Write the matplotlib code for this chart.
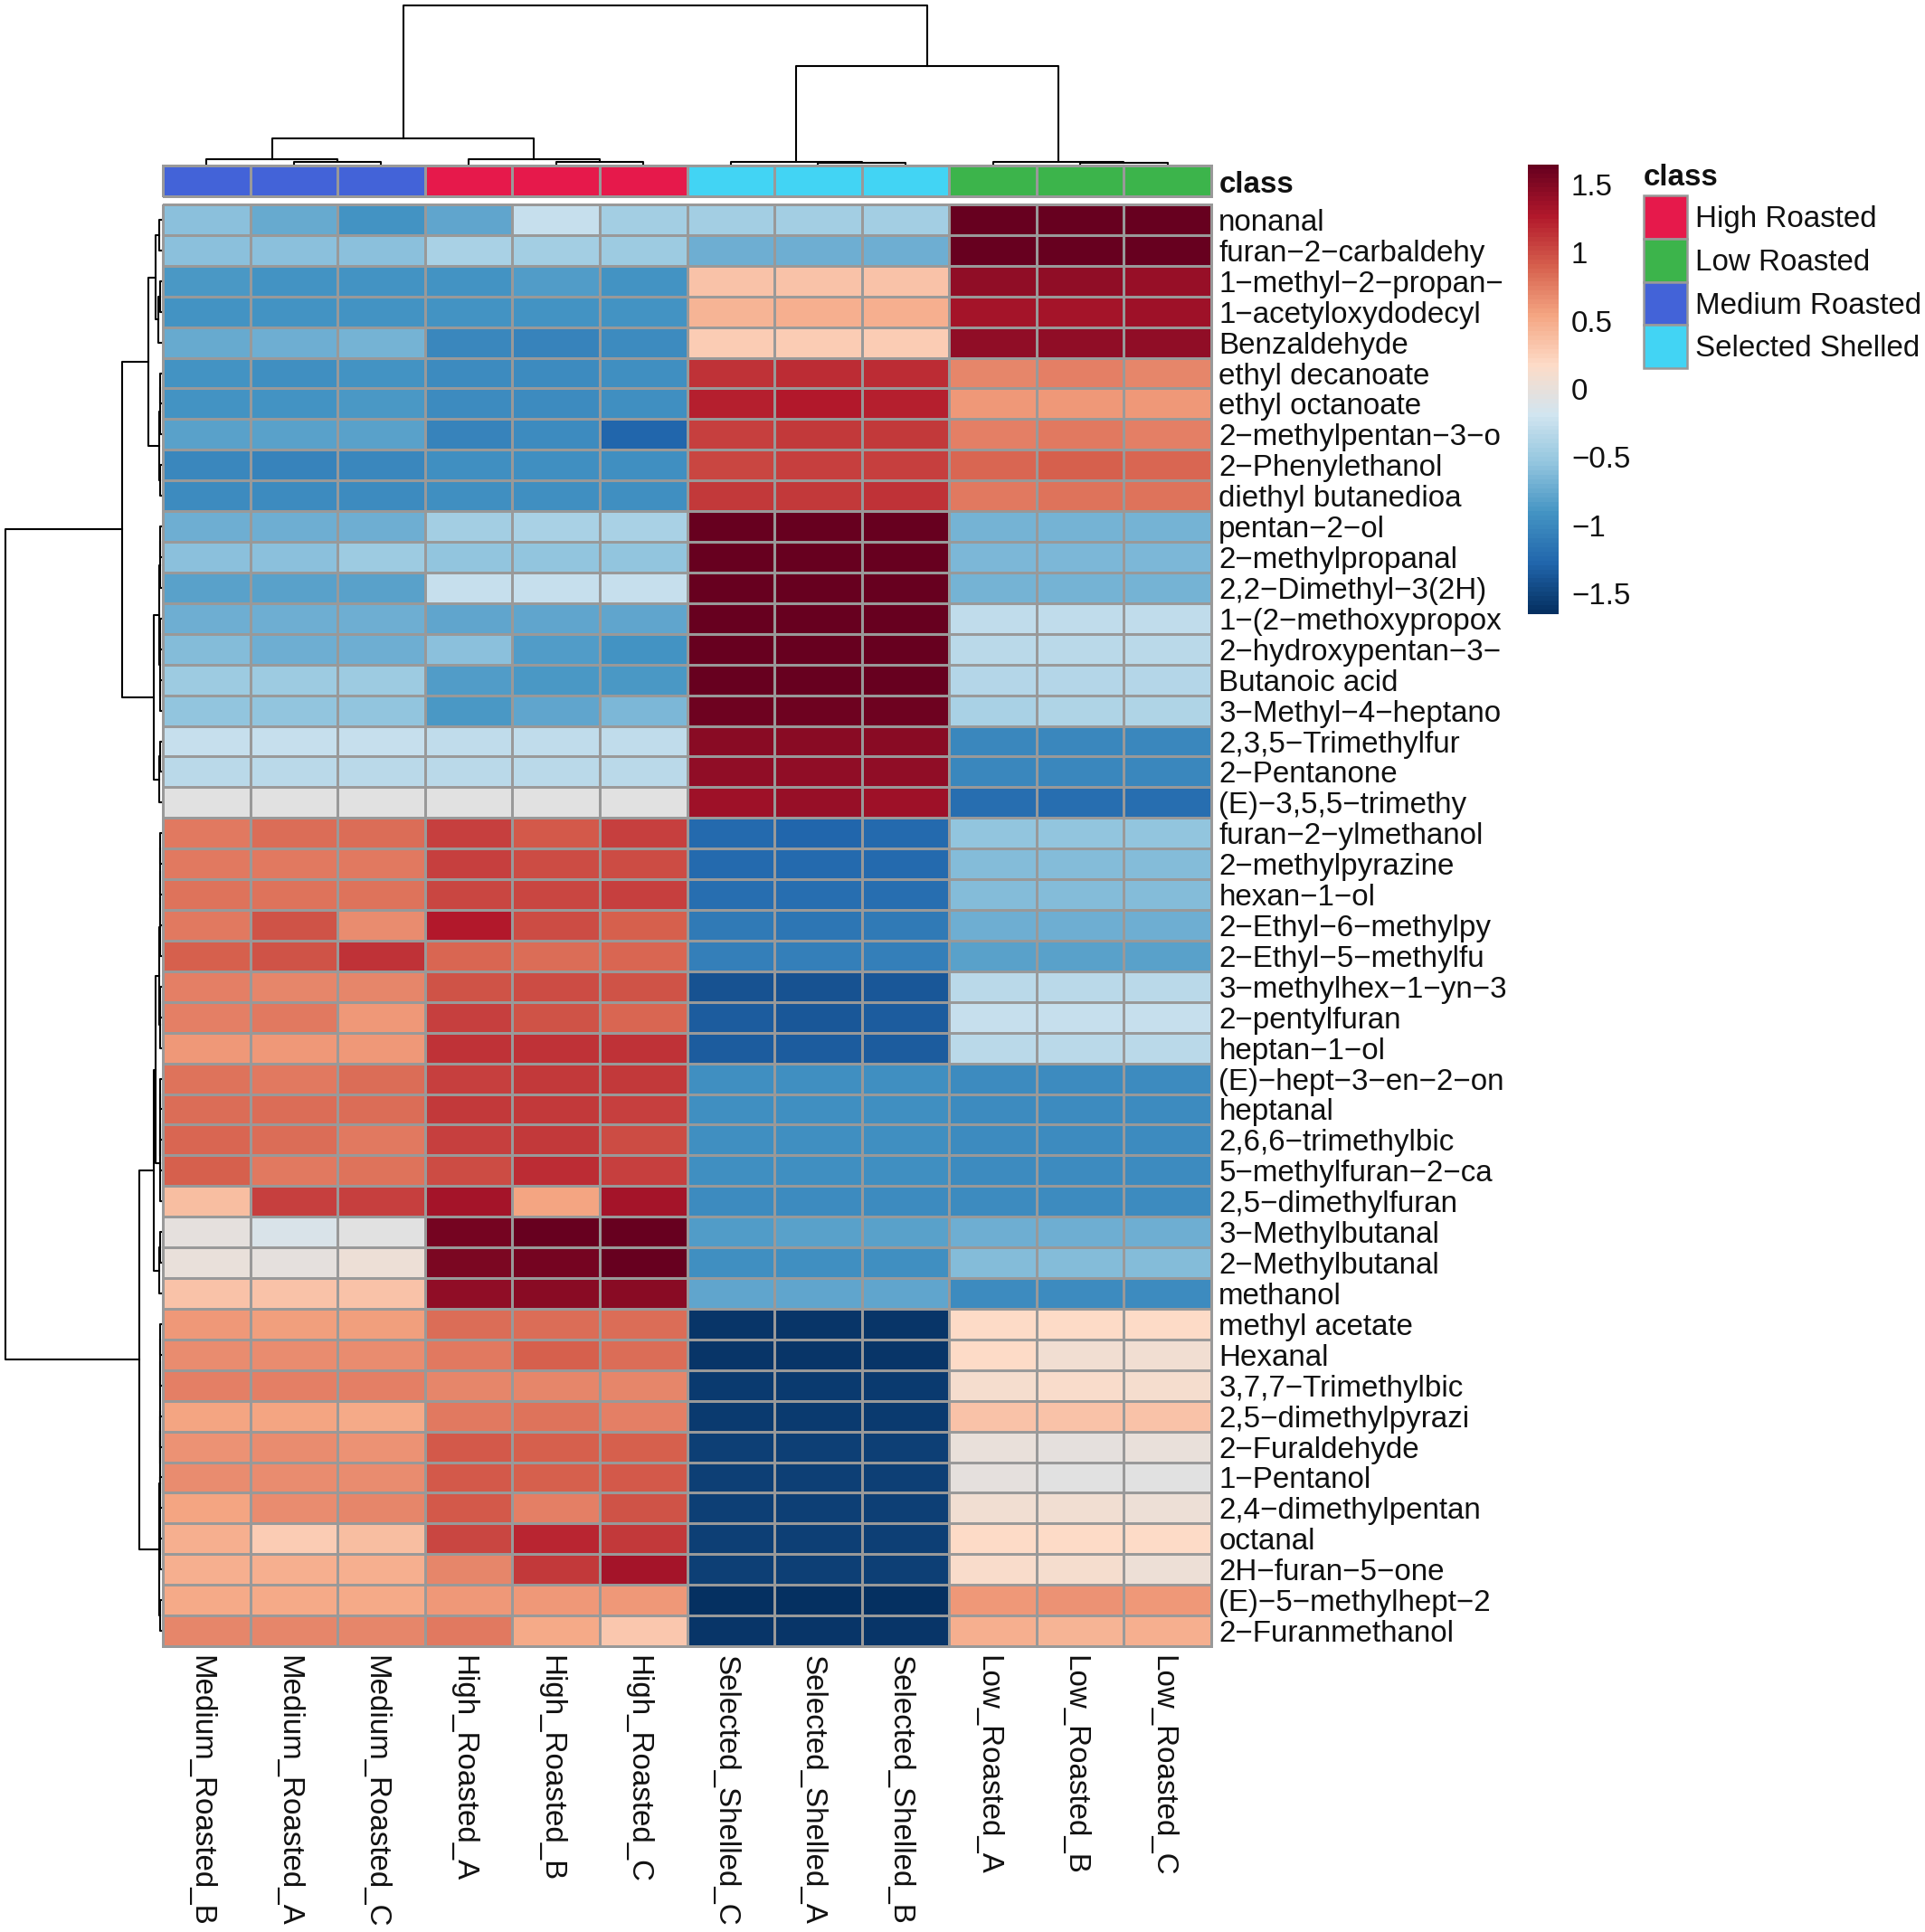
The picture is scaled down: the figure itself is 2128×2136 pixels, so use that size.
import numpy as np
import matplotlib
matplotlib.use('Agg')
import matplotlib.pyplot as plt
from matplotlib.colors import LinearSegmentedColormap, ListedColormap
from matplotlib.patches import Rectangle

plt.rcParams['font.family'] = ['Liberation Sans', 'DejaVu Sans']

compounds = ['nonanal', 'furan−2−carbaldehy', '1−methyl−2−propan−', '1−acetyloxydodecyl', 'Benzaldehyde',
             'ethyl decanoate', 'ethyl octanoate', '2−methylpentan−3−o', '2−Phenylethanol', 'diethyl butanedioa',
             'pentan−2−ol', '2−methylpropanal', '2,2−Dimethyl−3(2H)', '1−(2−methoxypropox', '2−hydroxypentan−3−',
             'Butanoic acid', '3−Methyl−4−heptano', '2,3,5−Trimethylfur', '2−Pentanone', '(E)−3,5,5−trimethy',
             'furan−2−ylmethanol', '2−methylpyrazine', 'hexan−1−ol', '2−Ethyl−6−methylpy', '2−Ethyl−5−methylfu',
             '3−methylhex−1−yn−3', '2−pentylfuran', 'heptan−1−ol', '(E)−hept−3−en−2−on', 'heptanal',
             '2,6,6−trimethylbic', '5−methylfuran−2−ca', '2,5−dimethylfuran', '3−Methylbutanal', '2−Methylbutanal',
             'methanol', 'methyl acetate', 'Hexanal', '3,7,7−Trimethylbic', '2,5−dimethylpyrazi',
             '2−Furaldehyde', '1−Pentanol', '2,4−dimethylpentan', 'octanal', '2H−furan−5−one',
             '(E)−5−methylhept−2', '2−Furanmethanol']

samples = ['Medium_Roasted_B', 'Medium_Roasted_A', 'Medium_Roasted_C',
           'High_Roasted_A', 'High_Roasted_B', 'High_Roasted_C',
           'Selected_Shelled_C', 'Selected_Shelled_A', 'Selected_Shelled_B',
           'Low_Roasted_A', 'Low_Roasted_B', 'Low_Roasted_C']

# one row per compound, columns in the order of the samples list
medium = [[-0.57, -0.75, -0.92], [-0.58, -0.58, -0.58], [-0.86, -0.92, -0.90], [-0.92, -0.91, -0.91], [-0.75, -0.72, -0.68],
          [-0.92, -0.93, -0.92], [-0.91, -0.90, -0.89], [-0.80, -0.80, -0.80], [-1.00, -1.04, -1.00], [-0.97, -0.97, -0.97],
          [-0.72, -0.70, -0.72], [-0.58, -0.58, -0.47], [-0.80, -0.80, -0.80], [-0.72, -0.72, -0.72], [-0.60, -0.70, -0.70],
          [-0.47, -0.47, -0.47], [-0.55, -0.53, -0.53], [-0.25, -0.25, -0.25], [-0.30, -0.30, -0.30], [-0.05, -0.05, -0.05],
          [0.76, 0.83, 0.83], [0.78, 0.78, 0.76], [0.80, 0.80, 0.82], [0.78, 0.97, 0.68], [0.92, 0.97, 1.13],
          [0.73, 0.70, 0.70], [0.73, 0.78, 0.61], [0.60, 0.60, 0.60], [0.81, 0.78, 0.83], [0.83, 0.85, 0.83],
          [0.88, 0.85, 0.78], [0.91, 0.76, 0.80], [0.38, 1.08, 1.08], [-0.03, -0.10, -0.04], [0.03, -0.03, 0.05],
          [0.35, 0.33, 0.35], [0.60, 0.58, 0.58], [0.66, 0.66, 0.66], [0.73, 0.73, 0.73], [0.56, 0.53, 0.50],
          [0.65, 0.68, 0.65], [0.68, 0.66, 0.67], [0.56, 0.66, 0.72], [0.48, 0.28, 0.38], [0.48, 0.48, 0.48],
          [0.50, 0.50, 0.50], [0.70, 0.70, 0.70]]
high = [[-0.77, -0.25, -0.43], [-0.42, -0.44, -0.47], [-0.91, -0.85, -0.90], [-0.91, -0.92, -0.91], [-1.00, -1.05, -0.99],
        [-0.97, -0.97, -0.95], [-0.97, -0.97, -0.95], [-1.03, -0.97, -1.28], [-0.94, -0.94, -0.94], [-0.95, -0.95, -0.95],
        [-0.43, -0.40, -0.40], [-0.53, -0.53, -0.53], [-0.25, -0.25, -0.25], [-0.78, -0.76, -0.76], [-0.57, -0.85, -0.90],
        [-0.85, -0.86, -0.86], [-0.88, -0.78, -0.65], [-0.27, -0.27, -0.27], [-0.30, -0.30, -0.30], [-0.05, -0.05, -0.05],
        [1.06, 0.93, 1.06], [1.06, 1.02, 1.02], [1.05, 1.03, 1.07], [1.26, 1.00, 0.91], [0.86, 0.85, 0.88],
        [0.96, 1.00, 0.96], [1.08, 0.98, 0.88], [1.14, 1.14, 1.14], [1.07, 1.10, 1.10], [1.12, 1.09, 1.08],
        [1.08, 1.12, 1.01], [0.99, 1.16, 1.07], [1.34, 0.55, 1.34], [1.56, 1.62, 1.62], [1.53, 1.58, 1.62],
        [1.42, 1.47, 1.47], [0.85, 0.84, 0.85], [0.76, 0.90, 0.83], [0.71, 0.70, 0.70], [0.76, 0.81, 0.73],
        [0.93, 0.91, 0.90], [0.93, 0.92, 0.93], [0.93, 0.73, 0.98], [1.05, 1.22, 1.12], [0.71, 1.10, 1.34],
        [0.60, 0.60, 0.60], [0.76, 0.52, 0.30]]
selected = [[-0.43, -0.43, -0.43], [-0.72, -0.70, -0.72], [0.35, 0.36, 0.36], [0.45, 0.48, 0.48], [0.28, 0.27, 0.28],
            [1.13, 1.18, 1.18], [1.23, 1.28, 1.25], [1.08, 1.10, 1.10], [1.03, 1.08, 1.08], [1.10, 1.10, 1.13],
            [1.65, 1.65, 1.65], [1.65, 1.65, 1.65], [1.65, 1.65, 1.65], [1.63, 1.63, 1.63], [1.62, 1.62, 1.62],
            [1.62, 1.62, 1.62], [1.60, 1.60, 1.60], [1.46, 1.48, 1.46], [1.42, 1.45, 1.45], [1.37, 1.40, 1.38],
            [-1.25, -1.27, -1.25], [-1.25, -1.25, -1.25], [-1.22, -1.22, -1.22], [-1.12, -1.15, -1.10], [-1.08, -1.08, -1.08],
            [-1.40, -1.40, -1.38], [-1.35, -1.38, -1.35], [-1.33, -1.35, -1.35], [-0.95, -0.93, -0.93], [-0.93, -0.93, -0.93],
            [-0.93, -0.93, -0.93], [-0.93, -0.93, -0.93], [-0.97, -0.97, -0.97], [-0.85, -0.80, -0.82], [-0.94, -0.94, -0.94],
            [-0.78, -0.78, -0.78], [-1.60, -1.60, -1.60], [-1.60, -1.60, -1.60], [-1.58, -1.58, -1.58], [-1.57, -1.57, -1.57],
            [-1.55, -1.55, -1.55], [-1.53, -1.53, -1.53], [-1.53, -1.53, -1.53], [-1.52, -1.52, -1.52], [-1.52, -1.52, -1.52],
            [-1.65, -1.65, -1.65], [-1.60, -1.60, -1.60]]
low = [[1.65, 1.65, 1.65], [1.65, 1.65, 1.65], [1.42, 1.42, 1.40], [1.33, 1.35, 1.36], [1.42, 1.44, 1.42],
       [0.72, 0.75, 0.72], [0.62, 0.62, 0.60], [0.75, 0.78, 0.75], [0.88, 0.90, 0.88], [0.78, 0.80, 0.80],
       [-0.68, -0.68, -0.68], [-0.66, -0.66, -0.66], [-0.68, -0.68, -0.68], [-0.27, -0.27, -0.27], [-0.33, -0.33, -0.33],
       [-0.36, -0.36, -0.36], [-0.40, -0.38, -0.38], [-1.00, -1.00, -1.02], [-1.00, -1.00, -1.00], [-1.22, -1.22, -1.22],
       [-0.53, -0.53, -0.53], [-0.60, -0.60, -0.60], [-0.62, -0.62, -0.62], [-0.72, -0.72, -0.72], [-0.80, -0.80, -0.80],
       [-0.30, -0.30, -0.30], [-0.25, -0.25, -0.25], [-0.33, -0.33, -0.33], [-0.96, -0.96, -0.97], [-0.96, -0.96, -0.97],
       [-0.97, -0.97, -0.97], [-0.97, -0.97, -0.97], [-0.97, -0.97, -0.97], [-0.72, -0.70, -0.72], [-0.62, -0.60, -0.62],
       [-0.97, -0.97, -0.97], [0.18, 0.17, 0.18], [0.18, 0.08, 0.09], [0.11, 0.14, 0.11], [0.33, 0.35, 0.33],
       [0.00, -0.02, 0.00], [-0.03, -0.05, -0.04], [0.07, 0.07, 0.05], [0.17, 0.19, 0.17], [0.15, 0.13, 0.05],
       [0.60, 0.63, 0.60], [0.47, 0.45, 0.47]]

class_names = ['High Roasted', 'Low Roasted', 'Medium Roasted', 'Selected Shelled']
class_colors = ['#e6194b', '#3cb44b', '#4363d8', '#42d4f4']
sample_class = [2, 2, 2, 0, 0, 0, 3, 3, 3, 1, 1, 1]

cbar_ticks = [-1.5, -1, -0.5, 0, 0.5, 1, 1.5]
cbar_labels = ['−1.5', '−1', '−0.5', '0', '0.5', '1', '1.5']

# merge trees: (height, left, right), leaves are indices in display order
col_tree = (1.0,
            (0.16,
             (0.028, 0, (0.012, 1, 2)),
             (0.028, 3, (0.012, 4, 5))),
            (0.62,
             (0.012, 6, (0.006, 7, 8)),
             (0.012, 9, (0.006, 10, 11))))

row_tree = (1.0,
            (0.25,
             (0.08,
              (0.035, (0.012, 0, 1), (0.018, (0.008, 2, 3), 4)),
              (0.012, (0.008, (0.005, 5, 6), 7), (0.005, 8, 9))),
             (0.047,
              (0.012, (0.006, (0.003, 10, 11), 12),
               (0.006, (0.003, 13, 14), (0.003, 15, 16))),
              (0.012, (0.005, 17, 18), 19))),
            (0.14,
             (0.047,
              (0.035,
               (0.012,
                (0.008, (0.006, (0.005, (0.003, 20, 21), 22), 23), 24),
                (0.006, (0.003, 25, 26), 27)),
               (0.008, (0.006, (0.003, 28, 29), (0.003, 30, 31)), 32)),
              (0.012, (0.006, 33, 34), 35)),
             (0.012,
              (0.008,
               (0.006, (0.004, (0.003, 36, 37), 38),
                (0.004, (0.003, 39, 40), (0.003, 41, 42))),
               (0.004, 43, 44)),
              (0.004, 45, 46))))

W, H = 2128, 2136
HEAT_L, HEAT_R, HEAT_T, HEAT_B = 180, 1339, 226, 1820
GRID = '#999999'
FONT = 23.9


def px_axes(fig, left, top, right, bottom):
    ax = fig.add_axes([left / W, 1 - bottom / H, (right - left) / W, (bottom - top) / H])
    ax.axis('off')
    return ax


def draw_tree(ax, node, vertical):
    # returns leaf position and height of the node, draws the bracket on the way up
    if not isinstance(node, tuple):
        return node + 0.5, 0.0
    height, left, right = node
    pos_a, h_a = draw_tree(ax, left, vertical)
    pos_b, h_b = draw_tree(ax, right, vertical)
    xs = [pos_a, pos_a, pos_b, pos_b]
    ys = [h_a, height, height, h_b]
    if vertical:
        ax.plot(xs, ys, color='black', lw=1.5, solid_capstyle='projecting', clip_on=False)
    else:
        ax.plot(ys, xs, color='black', lw=1.5, solid_capstyle='projecting', clip_on=False)
    return (pos_a + pos_b) / 2, height


values = np.hstack([np.array(medium), np.array(high), np.array(selected), np.array(low)])

rdbu_10 = ['#053061', '#2166ac', '#4393c3', '#92c5de', '#d1e5f0',
           '#fddbc7', '#f4a582', '#d6604d', '#b2182b', '#67001f']
cmap = LinearSegmentedColormap.from_list('rdbu10', rdbu_10, N=100)
VMIN, VMAX = -1.65, 1.65

fig = plt.figure(figsize=(W / 100, H / 100), dpi=100, facecolor='white')

# heatmap body
ax_heat = px_axes(fig, HEAT_L, HEAT_T, HEAT_R, HEAT_B)
ax_heat.pcolormesh(values, cmap=cmap, vmin=VMIN, vmax=VMAX, edgecolors=GRID, linewidth=2.0, clip_on=False)
ax_heat.set_xlim(0, len(samples))
ax_heat.set_ylim(len(compounds), 0)

for i, name in enumerate(compounds):
    ax_heat.annotate(name, (1, i + 0.5), xycoords=('axes fraction', 'data'), xytext=(6, 0),
                     textcoords='offset points', va='center_baseline', ha='left', fontsize=FONT, color='#111111')
for j, name in enumerate(samples):
    ax_heat.annotate(name, (j + 0.5, 0), xycoords=('data', 'axes fraction'), xytext=(-4.5, -7),
                     textcoords='offset points', rotation=270, ha='center', va='top', fontsize=FONT, color='#111111',
                     annotation_clip=False)

# class annotation strip
ax_ann = px_axes(fig, HEAT_L, 183, HEAT_R, 217)
ax_ann.pcolormesh(np.array([sample_class]), cmap=ListedColormap(class_colors), vmin=-0.5, vmax=3.5,
                  edgecolors=GRID, linewidth=1.8, clip_on=False)
ax_ann.annotate('class', (1, 0.5), xycoords='axes fraction', xytext=(6, -3), textcoords='offset points',
                va='center', ha='left', fontsize=FONT, fontweight='bold', color='#111111')

# dendrograms
ax_top = px_axes(fig, HEAT_L, 6, HEAT_R, 181)
ax_top.set_xlim(0, len(samples))
ax_top.set_ylim(0, 1)
draw_tree(ax_top, col_tree, True)

ax_left = px_axes(fig, 6, HEAT_T, 178, HEAT_B)
ax_left.set_xlim(1, 0)
ax_left.set_ylim(len(compounds), 0)
draw_tree(ax_left, row_tree, False)

# colour bar
ax_cbar = px_axes(fig, 1689, 180, 1723, 680)
levels = np.linspace(VMIN, VMAX, 101)
ax_cbar.pcolormesh([0, 1], levels, ((levels[:-1] + levels[1:]) / 2)[:, None], cmap=cmap, vmin=VMIN, vmax=VMAX)
ax_cbar.set_ylim(-1.655, 1.665)
for tick, label in zip(cbar_ticks, cbar_labels):
    ax_cbar.annotate(label, (1, tick), xycoords=('axes fraction', 'data'), xytext=(10, -2),
                     textcoords='offset points', va='center', ha='left', fontsize=FONT, color='#111111')

# class legend
ax_leg = px_axes(fig, 1817, 216, 1865, 407)
ax_leg.set_xlim(0, 1)
ax_leg.set_ylim(len(class_names), 0)
for i, (name, color) in enumerate(zip(class_names, class_colors)):
    ax_leg.add_patch(Rectangle((0, i), 1, 1, facecolor=color, edgecolor=GRID, linewidth=1.8, clip_on=False))
    ax_leg.annotate(name, (1, i + 0.5), xycoords=('axes fraction', 'data'), xytext=(6.5, -2),
                    textcoords='offset points', va='center', ha='left', fontsize=FONT, color='#111111')
ax_leg.annotate('class', (0, 1), xycoords='axes fraction', xytext=(0, 3), textcoords='offset points',
                va='bottom', ha='left', fontsize=FONT, fontweight='bold', color='#111111')

fig.savefig('out.png', dpi=100, facecolor='white')
